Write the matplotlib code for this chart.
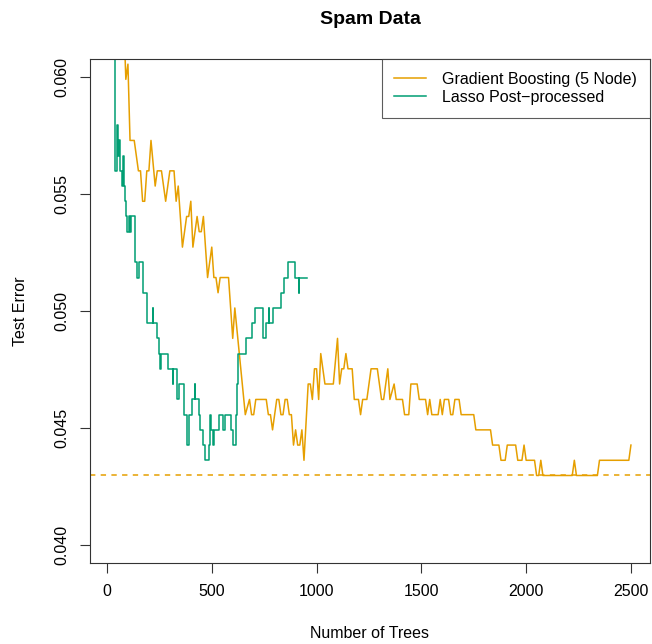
import matplotlib
matplotlib.use("Agg")
import matplotlib.pyplot as plt
import numpy as np

plt.rcParams['font.family'] = ['Liberation Sans', 'DejaVu Sans']

# Gradient boosting test error
gb_trees = [80, 90, 100, 110, 130, 150, 160, 170, 180, 190, 200, 210, 230, 240, 260,
            280, 300, 320, 330, 340, 360, 380, 390, 400, 410, 430, 440, 450, 460, 480,
            500, 510, 520, 530, 540, 580, 600, 610, 660, 680, 690, 700, 710, 760, 770,
            780, 790, 810, 820, 830, 840, 850, 860, 870, 880, 890, 900, 910, 920, 930,
            940, 960, 970, 980, 990, 1000, 1010, 1020, 1040, 1080, 1100, 1110, 1120, 1130, 1140,
            1150, 1170, 1180, 1200, 1210, 1220, 1240, 1260, 1290, 1310, 1320, 1340, 1350, 1370, 1380,
            1410, 1420, 1440, 1450, 1480, 1490, 1520, 1530, 1540, 1550, 1580, 1590, 1600, 1610, 1630,
            1640, 1650, 1660, 1680, 1690, 1750, 1760, 1830, 1840, 1870, 1880, 1900, 1910, 1950, 1960,
            1980, 1990, 2000, 2040, 2050, 2060, 2070, 2080, 2220, 2230, 2240, 2340, 2350, 2490, 2500]
gb_error = [0.06250, 0.05990, 0.06055, 0.05729, 0.05729, 0.05599, 0.05599, 0.05469, 0.05469, 0.05599,
            0.05599, 0.05729, 0.05534, 0.05599, 0.05599, 0.05469, 0.05599, 0.05599, 0.05469, 0.05534,
            0.05273, 0.05404, 0.05404, 0.05469, 0.05273, 0.05404, 0.05339, 0.05339, 0.05404, 0.05143,
            0.05273, 0.05143, 0.05143, 0.05078, 0.05143, 0.05143, 0.04883, 0.05013, 0.04557, 0.04622,
            0.04557, 0.04557, 0.04622, 0.04622, 0.04557, 0.04557, 0.04492, 0.04622, 0.04622, 0.04557,
            0.04557, 0.04622, 0.04622, 0.04557, 0.04557, 0.04427, 0.04492, 0.04427, 0.04427, 0.04492,
            0.04362, 0.04688, 0.04688, 0.04622, 0.04753, 0.04753, 0.04622, 0.04818, 0.04688, 0.04688,
            0.04883, 0.04688, 0.04753, 0.04753, 0.04818, 0.04753, 0.04753, 0.04622, 0.04622, 0.04557,
            0.04622, 0.04622, 0.04753, 0.04753, 0.04622, 0.04622, 0.04753, 0.04622, 0.04688, 0.04622,
            0.04622, 0.04557, 0.04557, 0.04688, 0.04688, 0.04622, 0.04622, 0.04557, 0.04622, 0.04557,
            0.04557, 0.04622, 0.04557, 0.04622, 0.04622, 0.04557, 0.04557, 0.04622, 0.04622, 0.04557,
            0.04557, 0.04492, 0.04492, 0.04427, 0.04427, 0.04362, 0.04362, 0.04427, 0.04427, 0.04362,
            0.04362, 0.04427, 0.04362, 0.04362, 0.04297, 0.04297, 0.04362, 0.04297, 0.04297, 0.04362,
            0.04297, 0.04297, 0.04362, 0.04362, 0.04427]

# Lasso post-processed ensemble (step changes)
lasso_trees = [30, 40, 49, 52, 57, 60, 72, 76, 81, 84, 91, 97, 104, 110, 116,
               135, 145, 151, 173, 189, 218, 221, 237, 250, 253, 256, 291, 313, 316, 333,
               345, 367, 383, 393, 406, 418, 421, 437, 444, 459, 466, 485, 491, 498, 504,
               510, 536, 552, 562, 590, 600, 615, 622, 626, 663, 690, 708, 744, 759, 771,
               774, 790, 828, 843, 865, 897, 915, 917, 953]
lasso_error = [0.06445, 0.05599, 0.05794, 0.05664, 0.05729, 0.05599, 0.05534, 0.05664, 0.05534, 0.05469,
               0.05404, 0.05339, 0.05404, 0.05339, 0.05404, 0.05208, 0.05143, 0.05208, 0.05078, 0.04948,
               0.05013, 0.04948, 0.04883, 0.04818, 0.04753, 0.04818, 0.04753, 0.04688, 0.04753, 0.04622,
               0.04688, 0.04557, 0.04427, 0.04557, 0.04622, 0.04688, 0.04622, 0.04557, 0.04492, 0.04427,
               0.04362, 0.04427, 0.04557, 0.04492, 0.04427, 0.04492, 0.04557, 0.04492, 0.04557, 0.04492,
               0.04427, 0.04557, 0.04688, 0.04818, 0.04883, 0.04948, 0.05013, 0.04883, 0.04948, 0.05013,
               0.04948, 0.05013, 0.05078, 0.05143, 0.05208, 0.05143, 0.05078, 0.05143, 0.05143]

gb_min = 0.04297

orange = '#E69F00'
green = '#009E73'

fig = plt.figure(figsize=(6.52, 6.44), dpi=100)
ax = fig.add_axes([90 / 652, 1 - 563 / 644, 560 / 652, 504 / 644])

ax.plot(gb_trees, gb_error, color=orange, lw=1.1, label='Gradient Boosting (5 Node)')
ax.plot(lasso_trees, lasso_error, color=green, lw=1.1, drawstyle='steps-post',
        label='Lasso Post\u2212processed')
ax.axhline(gb_min, color=orange, lw=1.1, ls=(0, (3.5, 3.5)))

ax.set_xlim(-81, 2591)
ax.set_ylim(0.03923, 0.06077)
ax.set_xticks(np.arange(0, 2501, 500))
ax.set_yticks([0.040, 0.045, 0.050, 0.055, 0.060])
ax.set_yticklabels(['0.040', '0.045', '0.050', '0.055', '0.060'])
ax.tick_params(direction='out', length=7, width=0.8, labelsize=11.5, pad=8, color='#333333')
for lab in ax.get_yticklabels():
    lab.set_rotation(90)
    lab.set_va('center')
for s in ax.spines.values():
    s.set_linewidth(0.8)
    s.set_color('#333333')

ax.set_xlabel('Number of Trees', fontsize=11.5)
ax.set_ylabel('Test Error', fontsize=11.5)
ax.xaxis.set_label_coords(0.5, -0.125)
ax.yaxis.set_label_coords(-0.111, 0.5)
ax.set_title('Spam Data', fontsize=14, fontweight='bold', pad=25)

leg = ax.legend(loc='upper right', borderaxespad=0, fancybox=False, fontsize=11.5,
                edgecolor='#333333', handlelength=2.0, borderpad=0.8, labelspacing=0.2,
                handletextpad=1.0)
leg.get_frame().set_linewidth(0.8)

plt.savefig('out.png', dpi=100)
